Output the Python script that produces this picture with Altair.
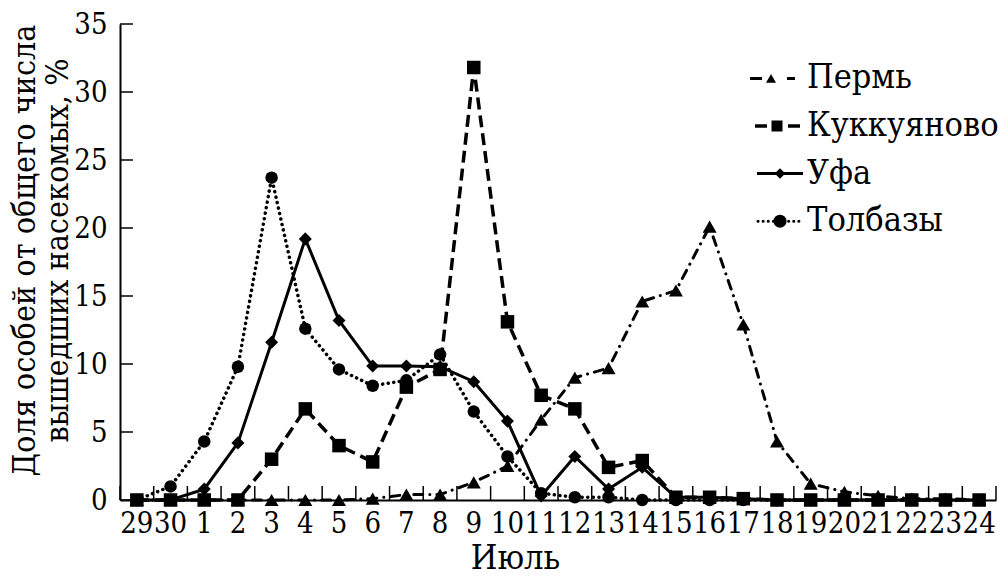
import altair as alt
import pandas as pd

days = ['29', '30', '1', '2', '3', '4', '5', '6', '7', '8', '9', '10', '11', '12',
        '13', '14', '15', '16', '17', '18', '19', '20', '21', '22', '23', '24']
series_names = ['Пермь', 'Куккуяново', 'Уфа', 'Толбазы']
perm = [0, 0, 0, 0, 0, 0, 0, 0.1, 0.4, 0.4, 1.3, 2.5, 5.9, 9.0, 9.7, 14.6, 15.4, 20.1,
        12.9, 4.3, 1.2, 0.6, 0.3, 0.1, 0.1, 0]
kuk = [0, 0, 0, 0, 3.0, 6.7, 4.0, 2.8, 8.3, 9.6, 31.8, 13.1, 7.7, 6.7, 2.4, 2.9, 0.2, 0.2,
       0.1, 0, 0, 0, 0, 0, 0, 0]
ufa = [0, 0, 0.8, 4.2, 11.6, 19.2, 13.2, 9.85, 9.85, 9.8, 8.7, 5.8, 0.3, 3.2, 0.8, 2.4, 0.2,
       0.2, 0.1, 0, 0, 0, 0, 0, 0, 0]
tol = [0, 1.0, 4.3, 9.8, 23.7, 12.6, 9.6, 8.4, 8.8, 10.7, 6.5, 3.2, 0.5, 0.2, 0.2, 0, 0, 0,
       0, 0, 0, 0, 0, 0, 0, 0]
y_ticks = [0, 5, 10, 15, 20, 25, 30, 35]
y_title = ['Доля особей от общего числа', 'вышедших насекомых, %']
x_title = 'Июль'

rows = []
for name, vals in zip(series_names, [perm, kuk, ufa, tol]):
    for i, (d, v) in enumerate(zip(days, vals)):
        rows.append({'day': d, 'idx': i, 'series': name, 'value': v})
df = pd.DataFrame(rows)
ytick_df = pd.DataFrame({'value': y_ticks})
day_df = pd.DataFrame({'day': days})
leg_df = pd.DataFrame({'series': series_names})

FONT = 'DejaVu Serif Condensed, DejaVu Serif'
W, H = 876, 476

shapes = ['triangle-up', 'square', 'diamond', 'circle']
sizes = [196, 156, 196, 225]
line_styles = {
    'Пермь': dict(strokeDash=[9, 7, 0.1, 7], strokeCap='round', strokeWidth=3),
    'Куккуяново': dict(strokeDash=[12, 6], strokeCap='butt', strokeWidth=3.5),
    'Уфа': dict(strokeCap='butt', strokeWidth=3),
    'Толбазы': dict(strokeDash=[0.1, 5.5], strokeCap='round', strokeWidth=3.5),
}
# legend sample: line start, line end, marker x, marker size, stroke style
leg_style = {
    'Пермь': dict(x0=630, x1=675, xm=651, size=100,
                  mark=dict(strokeDash=[12, 25, 8, 100], strokeCap='butt', strokeWidth=3)),
    'Куккуяново': dict(x0=635, x1=680, xm=657, size=121,
                       mark=dict(strokeDash=[12, 21, 12, 100], strokeCap='butt', strokeWidth=3.5)),
    'Уфа': dict(x0=637, x1=683, xm=660, size=110,
                mark=dict(strokeCap='butt', strokeWidth=3)),
    'Толбазы': dict(x0=638, x1=682, xm=660, size=169,
                    mark=dict(strokeDash=[0.1, 5], strokeCap='round', strokeWidth=3)),
}

xscale = alt.Scale(type='band', paddingInner=0, paddingOuter=0)
yscale = alt.Scale(domain=[0, 35], nice=False, zero=True)

x_axis = alt.Axis(title=x_title, labelAngle=0, ticks=False, labelFontSize=29,
                  labelPadding=9, labelOverlap=False, titleFontSize=34,
                  titleX=395, titleY=68, titleAlign='center', titleBaseline='alphabetic')
y_axis = alt.Axis(title=y_title, values=y_ticks, ticks=False, labelFontSize=29,
                  labelPadding=13, titleFontSize=32, titleLineHeight=33,
                  titleX=-79, titleY=226, titleAlign='center', titleBaseline='bottom',
                  titleAngle=-90)

X_ax = alt.X('day:N', sort=days, scale=xscale, axis=x_axis)
Y_ax = alt.Y('value:Q', scale=yscale, axis=y_axis)

layers = []
for name in series_names:
    layers.append(
        alt.Chart(df).transform_filter(alt.datum.series == name)
        .mark_line(color='black', **line_styles[name])
        .encode(x=X_ax, y=Y_ax, order=alt.Order('idx:Q'))
    )
layers.append(alt.Chart(df).mark_point(filled=True, color='black', opacity=1).encode(
    x=X_ax, y=Y_ax,
    shape=alt.Shape('series:N', scale=alt.Scale(domain=series_names, range=shapes), legend=None),
    size=alt.Size('series:N', scale=alt.Scale(domain=series_names, range=sizes), legend=None),
))

# inward ticks
layers.append(alt.Chart(ytick_df).mark_rule(color='black', strokeWidth=1.5).encode(
    y=Y_ax, x=alt.value(0), x2=alt.value(13)))
layers.append(alt.Chart(day_df).mark_rule(color='black', strokeWidth=1.5).encode(
    x=alt.X('day:N', sort=days, scale=xscale, axis=x_axis, bandPosition=0),
    y=alt.value(H), y2=alt.value(H - 14)))
layers.append(alt.Chart(day_df).transform_filter(alt.datum.day == days[-1]).mark_rule(
    color='black', strokeWidth=1.5).encode(
    x=alt.X('day:N', sort=days, scale=xscale, axis=x_axis, bandPosition=1),
    y=alt.value(H), y2=alt.value(H - 14)))

# legend (rows placed on the shared y scale)
names_expr = '[' + ','.join("'" + n + "'" for n in series_names) + ']'
leg_base = alt.Chart(leg_df).transform_calculate(
    value='31.0 - 3.5 * indexof(' + names_expr + ', datum.series)')
for name, shp in zip(series_names, shapes):
    st = leg_style[name]
    sub = leg_base.transform_filter(alt.datum.series == name)
    layers.append(sub.mark_rule(color='black', **st['mark']).encode(
        y=Y_ax, x=alt.value(st['x0']), x2=alt.value(st['x1'])))
    layers.append(sub.mark_point(filled=True, color='black', opacity=1).encode(
        y=Y_ax, x=alt.value(st['xm']), shape=alt.value(shp), size=alt.value(st['size'])))
layers.append(leg_base.mark_text(align='left', baseline='middle', font=FONT,
                                 fontSize=34, color='black').encode(
    y=Y_ax, x=alt.value(687), text='series:N'))

chart = alt.layer(*layers).properties(
    width=W, height=H,
    autosize=alt.AutoSizeParams(type='none'),
    padding={'left': 112, 'top': 16, 'right': 4, 'bottom': 75},
    background='white',
).configure_view(stroke=None).configure_axis(
    domainColor='black', domainWidth=2, grid=False,
    labelFont=FONT, labelColor='black', titleFont=FONT, titleColor='black',
    titleFontWeight='normal',
)

chart.save('out.html', embed_options={'renderer': 'svg', 'actions': False})
